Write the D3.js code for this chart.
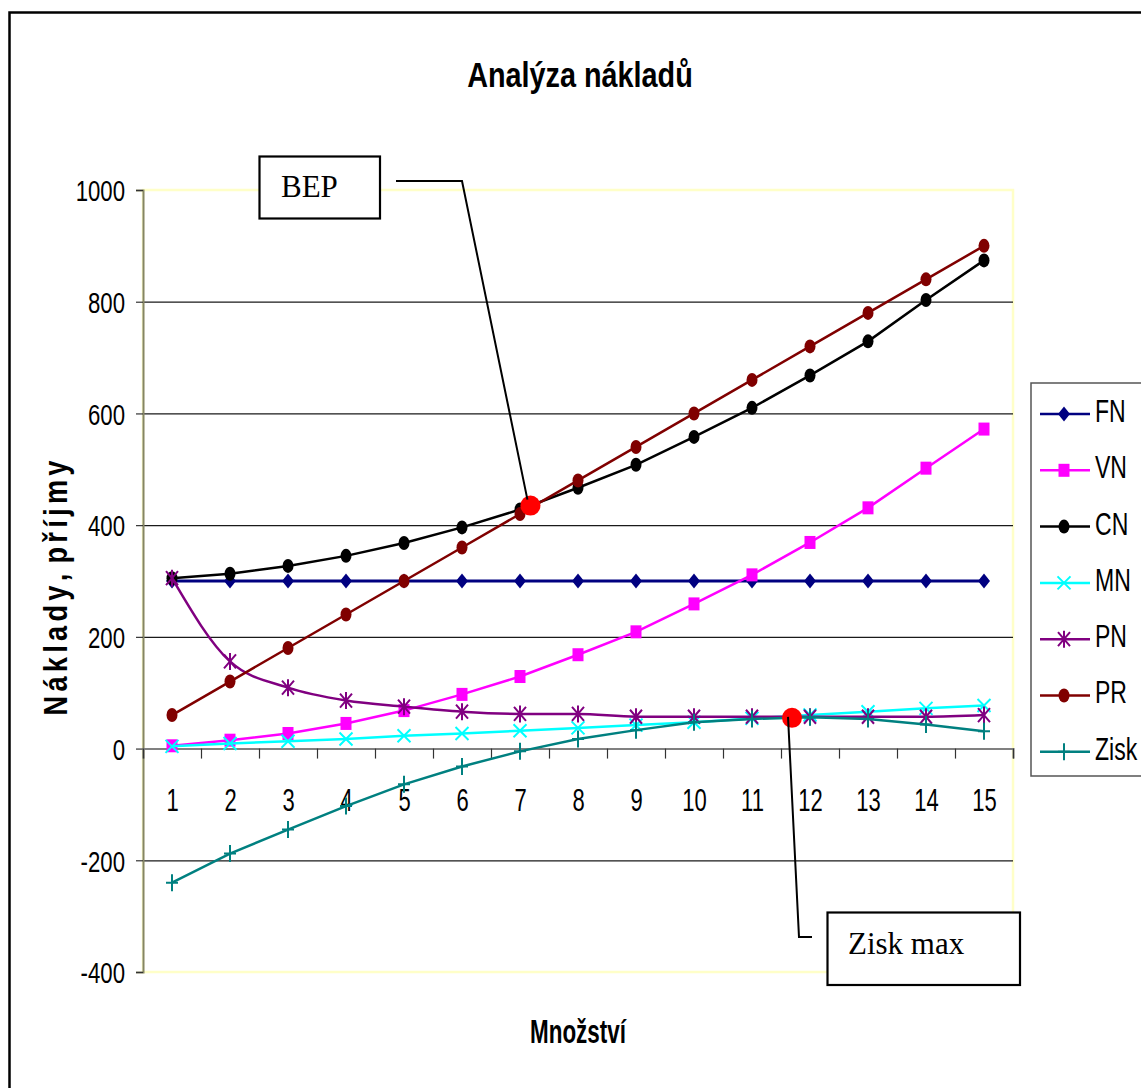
<!DOCTYPE html>
<html><head><meta charset="utf-8">
<script src="https://cdn.jsdelivr.net/npm/d3@7"></script>
<style>
html,body{margin:0;padding:0;background:#fff;}
svg{display:block;}
.nar{font-family:"Liberation Sans Narrow","Arial Narrow","Liberation Sans",Arial,sans-serif;}
.ser{font-family:"Liberation Serif","Times New Roman",serif;}
</style></head>
<body>
<script>
// ---------- data ----------
const categories = [1,2,3,4,5,6,7,8,9,10,11,12,13,14,15];
const yTicks = [-400,-200,0,200,400,600,800,1000];
const seriesNames = ["FN","VN","CN","MN","PN","PR","Zisk"];
const FN   = [300,300,300,300,300,300,300,300,300,300,300,300,300,300,300];
const VN   = [5,15,27,45,68,97,129,168,209,259,311,369,431,502,572];
const CN   = [305,313,327,345,368,396,428,467,508,558,610,668,729,803,874];
const MN   = [4,9,13,17,23,27,32,37,42,47,54,60,66,72,77];
const PN   = [305,156,109,86,75,66,62,62,57,57,57,57,57,57,60];
const PR   = [60,120,180,240,300,360,420,480,540,600,660,720,780,840,900];
const Zisk = [-240,-188,-145,-103,-64,-32,-5,17,33,47,53,56,53,43,31];
const title = "Analýza nákladů";
const xTitle = "Množství";
const yTitle = "N á k l a d y ,  p ř í j m y";
const annotations = [
  {label:"BEP", q:7.18, v:435},
  {label:"Zisk max", q:11.69, v:55}
];

// ---------- styles ----------
const colors = {FN:"#000080",VN:"#FF00FF",CN:"#000000",MN:"#00FFFF",PN:"#800080",PR:"#800000",Zisk:"#008080"};
const markers = {FN:"diamond",VN:"square",CN:"circle",MN:"x",PN:"star",PR:"circle",Zisk:"plus"};
const values = {FN,VN,CN,MN,PN,PR,Zisk};

const W=1141,H=1088;
const svg=d3.select("body").append("svg").attr("width",W).attr("height",H);

// outer border
svg.append("rect").attr("x",9.5).attr("y",12.5).attr("width",1300).attr("height",1300)
  .attr("fill","#fff").attr("stroke","#000").attr("stroke-width",2.5);

const L=143,R=1013,T=190,B=972;
const x=d3.scaleLinear().domain([0.5,15.5]).range([L,R]);
const y=d3.scaleLinear().domain([-400,1000]).range([B,T]);

// plot area
svg.append("rect").attr("x",L).attr("y",T).attr("width",R-L).attr("height",B-T)
  .attr("fill","#fff").attr("stroke","#FFFFC8").attr("stroke-width",2.5);

// gridlines
const grid=svg.append("g").attr("transform",`translate(${L},0)`)
  .call(d3.axisLeft(y).tickValues(yTicks.filter(v=>v!==0&&v!==1000&&v!==-400)).tickSize(-(R-L)).tickFormat(""));
grid.select(".domain").remove();
grid.selectAll("line").attr("stroke","#1a1a1a").attr("stroke-width",1.2);

// y axis
const ya=svg.append("g").attr("transform",`translate(${L},0)`)
  .call(d3.axisLeft(y).tickValues(yTicks).tickSize(7).tickPadding(0).tickFormat(d=>String(d)));
ya.select(".domain").attr("stroke","#858566").attr("stroke-width",2);
ya.selectAll("line").attr("stroke","#333").attr("stroke-width",1.2);
const sxY=0.74;
ya.selectAll("text").attr("class","nar").attr("font-size",30).attr("fill","#000")
  .attr("transform",`scale(${sxY},1)`).attr("x",-18/sxY).attr("dy","0.36em");

// x axis (ticks at category boundaries)
const xa=svg.append("g").attr("transform",`translate(0,${y(0)})`)
  .call(d3.axisBottom(x).tickValues(d3.range(0.5,15.6,1)).tickSize(10).tickFormat(""));
xa.select(".domain").attr("stroke","#808080").attr("stroke-width",2);
xa.selectAll("line").attr("stroke","#333").attr("stroke-width",1.2);
// x labels at category centres
const xl=svg.append("g").attr("transform",`translate(0,${y(0)})`)
  .call(d3.axisBottom(x).tickValues(categories).tickSize(0).tickFormat(d=>String(d)));
xl.select(".domain").remove();
const sxX=0.71;
xl.selectAll("text").attr("class","nar").attr("font-size",31).attr("fill","#000")
  .attr("transform",`scale(${sxX},1)`).attr("y",62).attr("dy",0);

// marker drawing
function drawMarker(g,type,color){
  if(type==="diamond") g.append("path").attr("d","M0,-7.5L6,0L0,7.5L-6,0Z").attr("fill",color);
  else if(type==="square") g.append("rect").attr("x",-5.5).attr("y",-6.5).attr("width",11).attr("height",13).attr("fill",color);
  else if(type==="circle") g.append("ellipse").attr("rx",5.5).attr("ry",7).attr("fill",color);
  else if(type==="x") g.append("path").attr("d","M-6.5,-6.5L6.5,6.5M-6.5,6.5L6.5,-6.5").attr("stroke",color).attr("stroke-width",2).attr("fill","none");
  else if(type==="star") g.append("path").attr("d","M-6,-7L6,7M-6,7L6,-7M0,-8.5L0,8.5").attr("stroke",color).attr("stroke-width",2).attr("fill","none");
  else if(type==="plus") g.append("path").attr("d","M0,-8.5L0,8.5M-6,0L6,0").attr("stroke",color).attr("stroke-width",2).attr("fill","none");
}

// series
const plot=svg.append("g");
seriesNames.forEach(name=>{
  const data=values[name].map((v,i)=>({q:categories[i],v}));
  const line=d3.line().x(d=>x(d.q)).y(d=>y(d.v))
    .curve(name==="PN"?d3.curveMonotoneX:d3.curveLinear);
  plot.append("path").datum(data).attr("d",line).attr("fill","none")
    .attr("stroke",colors[name]).attr("stroke-width",name==="FN"?3:2.5);
  data.forEach(d=>{
    const g=plot.append("g").attr("transform",`translate(${x(d.q)},${y(d.v)})`);
    drawMarker(g,markers[name],colors[name]);
  });
});

// annotation dots
annotations.forEach(a=>{
  svg.append("circle").attr("cx",x(a.q)).attr("cy",y(a.v)).attr("r",10).attr("fill","#FF0000");
});

// BEP callout
const bep=annotations[0];
svg.append("path").attr("d",`M396,181L462,181L${x(bep.q)-3},${y(bep.v)-6}`)
  .attr("fill","none").attr("stroke","#000").attr("stroke-width",2);
svg.append("rect").attr("x",259.5).attr("y",156.5).attr("width",120.5).attr("height",62)
  .attr("fill","#fff").attr("stroke","#000").attr("stroke-width",2.2);
svg.append("text").attr("class","ser").attr("x",281).attr("y",197).attr("font-size",31).text(bep.label);

// Zisk max callout
const zm=annotations[1];
svg.append("path").attr("d",`M${x(zm.q)-4},${y(zm.v)-1}L799,937L812,937`)
  .attr("fill","none").attr("stroke","#000").attr("stroke-width",2);
svg.append("rect").attr("x",827.5).attr("y",912.5).attr("width",192.5).attr("height",72.5)
  .attr("fill","#fff").attr("stroke","#000").attr("stroke-width",2.2);
svg.append("text").attr("class","ser").attr("x",848).attr("y",954).attr("font-size",31).text(zm.label);

// legend
const lg=svg.append("g");
lg.append("rect").attr("x",1031).attr("y",383).attr("width",200).attr("height",393)
  .attr("fill","#fff").attr("stroke","#555").attr("stroke-width",1.5);
const sxL=0.72;
seriesNames.forEach((name,i)=>{
  const cy=414+i*56.3;
  lg.append("line").attr("x1",1040).attr("x2",1090).attr("y1",cy).attr("y2",cy)
    .attr("stroke",colors[name]).attr("stroke-width",2.5);
  const g=lg.append("g").attr("transform",`translate(1064,${cy})`);
  drawMarker(g,markers[name],colors[name]);
  lg.append("text").attr("class","nar").attr("font-size",32).attr("transform",`scale(${sxL},1)`)
    .attr("x",1095/sxL).attr("y",cy+8).text(name);
});

// titles
svg.append("text").attr("class","nar").attr("font-weight","bold").attr("font-size",36)
  .attr("text-anchor","middle").attr("transform","scale(0.80,1)").attr("x",580/0.80).attr("y",87).text(title);
svg.append("text").attr("class","nar").attr("font-weight","bold").attr("font-size",33)
  .attr("text-anchor","middle").attr("transform","scale(0.68,1)").attr("x",578/0.68).attr("y",1043).text(xTitle);
svg.append("text").attr("class","nar").attr("font-weight","bold").attr("font-size",34)
  .attr("text-anchor","middle").attr("transform","translate(67,588) rotate(-90) scale(0.8,1)")
  .style("white-space","pre").attr("textLength",255/0.8).attr("lengthAdjust","spacing").text(yTitle);
</script>
</body></html>
